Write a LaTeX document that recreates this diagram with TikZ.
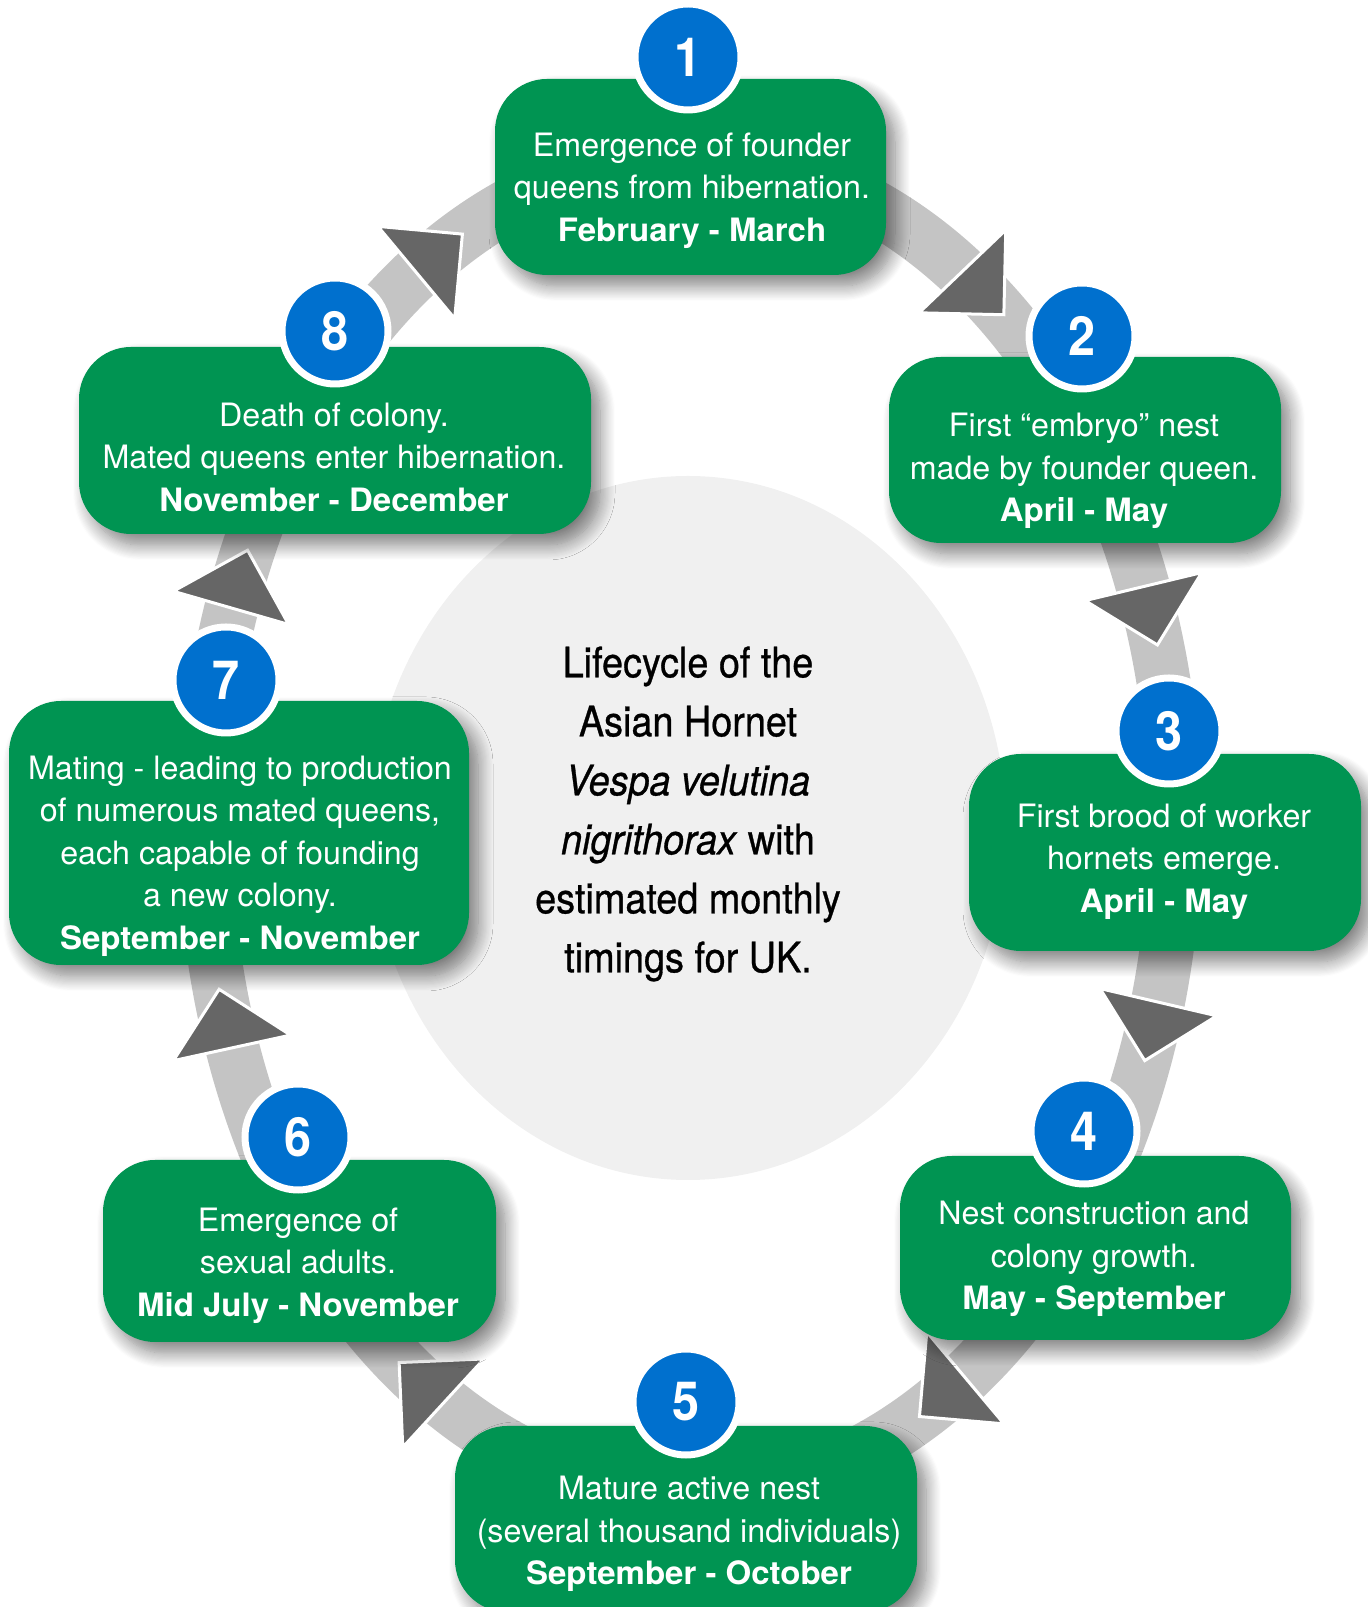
\documentclass[tikz,border=0pt]{standalone}
\usepackage{fontspec}
\setmainfont{TeX Gyre Heros}
\newfontfamily\condfont[FakeStretch=0.9,FakeBold=0.7]{TeX Gyre Heros}
\newfontfamily\numfont[FakeStretch=0.9]{TeX Gyre Heros}
\newfontfamily\wboldfont[FakeStretch=1.025]{TeX Gyre Heros}
\newcommand{\dates}[1]{{\wboldfont\bfseries #1}}
\usetikzlibrary{calc,decorations.markings,shadows.blur}
\definecolor{boxgreen}{HTML}{009452}
\definecolor{numblue}{HTML}{0070CE}
\definecolor{ringgrey}{HTML}{C4C4C4}
\definecolor{trigrey}{HTML}{666666}
\definecolor{centergrey}{HTML}{F0F0F0}
\begin{document}
\begin{tikzpicture}[x=1pt,y=1pt,
  stepbox/.style={rounded corners=52pt, fill=boxgreen, inner sep=0pt,
    blur shadow={shadow xshift=9pt, shadow yshift=-11pt, shadow blur radius=15pt,
      shadow blur steps=14, shadow opacity=50}},
  steptext/.style={align=center, text=white, font=\fontsize{32.2}{42.5}\selectfont, inner sep=0pt},
  numcirc/.style={circle, fill=numblue, draw=white, line width=7pt, minimum size=106pt,
    inner sep=0pt, text=white, font=\numfont\bfseries\fontsize{54}{54}\selectfont},
  ringline/.style={draw=ringgrey, line width=54pt},
  trifill/.style={fill=trigrey, draw=white, line width=3pt, line join=miter},
  ringarrow/.style={decoration={markings, mark=at position #1 with
    {\filldraw[trifill] (-30pt,-60pt) -- (30pt,0pt) -- (-30pt,60pt) -- cycle;}},
    postaction={decorate}},
]
\useasboundingbox (0,0) rectangle (1368,1607);

% centre disc
\fill[centergrey] (688,779) ellipse [x radius=318pt, y radius=352pt];

% ring coordinates
\coordinate (ec) at (690,781);
\coordinate (p1) at ($(ec)+(90:485pt and 669pt)$);
\coordinate (p2) at ($(ec)+(34.6:485pt and 669pt)$);
\coordinate (p3) at ($(ec)+(0:485pt and 669pt)$);
\coordinate (p4) at ($(ec)+(-37:485pt and 669pt)$);
\coordinate (p5) at ($(ec)+(-90:485pt and 669pt)$);
\coordinate (p6) at ($(ec)+(-141.8:485pt and 669pt)$);
\coordinate (p7) at ($(ec)+(180:485pt and 669pt)$);
\coordinate (p8) at ($(ec)+(141.8:485pt and 669pt)$);

% connectors
\draw[ringline, ringarrow=0.64] (p1) arc[start angle=90, end angle=34.6, x radius=485pt, y radius=669pt];
\draw[ringline, ringarrow=0.46] (p2) arc[start angle=34.6, end angle=0, x radius=485pt, y radius=669pt];
\draw[ringline, ringarrow=0.495] (p3) arc[start angle=0, end angle=-37, x radius=485pt, y radius=669pt];
\draw[ringline, ringarrow=0.44] (p4) arc[start angle=-37, end angle=-90, x radius=485pt, y radius=669pt];
\draw[ringline, ringarrow=0.62] (p5) arc[start angle=-90, end angle=-141.8, x radius=485pt, y radius=669pt];
\draw[ringline, ringarrow=0.55] (p6) arc[start angle=-141.8, end angle=-180, x radius=485pt, y radius=669pt];
\draw[ringline, ringarrow=0.58] (p7) arc[start angle=180, end angle=141.8, x radius=485pt, y radius=669pt];
\draw[ringline, ringarrow=0.43] (p8) arc[start angle=141.8, end angle=90, x radius=485pt, y radius=669pt];

% boxes
\node[stepbox, minimum width=391pt, minimum height=196pt] (b1) at (690.5,1430) {};
\node[stepbox, minimum width=392pt, minimum height=186pt] (b2) at (1085,1157) {};
\node[stepbox, minimum width=392pt, minimum height=197pt] (b3) at (1165,754.5) {};
\node[stepbox, minimum width=391pt, minimum height=184pt] (b4) at (1095.5,359) {};
\node[stepbox, minimum width=462pt, minimum height=186pt] (b5) at (686,88) {};
\node[stepbox, minimum width=393pt, minimum height=182pt] (b6) at (299.5,356) {};
\node[stepbox, minimum width=460pt, minimum height=264pt] (b7) at (239,774) {};
\node[stepbox, minimum width=512pt, minimum height=187pt] (b8) at (335,1166.5) {};

% texts
\node[steptext] (t1) at (692,1416.5) {Emergence of founder\\queens from hibernation.\\\dates{February - March}};
\node[steptext] (t2) at (1084,1136) {First “embryo” nest\\made by founder queen.\\\dates{April - May}};
\node[steptext] (t3) at (1164,745.5) {First brood of worker\\hornets emerge.\\\dates{April - May}};
\node[steptext] (t4) at (1094,348) {Nest construction and\\colony growth.\\\dates{May - September}};
\node[steptext] (t5) at (689,73) {Mature active nest\\(several thousand individuals)\\\dates{September - October}};
\node[steptext] (t6) at (298,341.5) {Emergence of\\sexual adults.\\\dates{Mid July - November}};
\node[steptext] (t7) at (240,751) {Mating - leading to production\\of numerous mated queens,\\each capable of founding\\a new colony.\\\dates{September - November}};
\node[steptext] (t8) at (334,1150) {Death of colony.\\Mated queens enter hibernation.\\\dates{November - December}};

% number circles
\node[numcirc] (c1) at (688,1550) {1};
\node[numcirc] (c2) at (1082,1271) {2};
\node[numcirc] (c3) at (1169,876) {3};
\node[numcirc] (c4) at (1084,476) {4};
\node[numcirc] (c5) at (686,205) {5};
\node[numcirc] (c6) at (298,470) {6};
\node[numcirc] (c7) at (226,927) {7};
\node[numcirc] (c8) at (335,1276) {8};

% title
\node[font=\condfont\fontsize{42}{59}\selectfont, align=center, text=black, inner sep=0pt] (title) at (688,793)
  {Lifecycle of the\\Asian Hornet\\\textit{Vespa velutina}\\\textit{nigrithorax} with\\estimated monthly\\timings for UK.};
\end{tikzpicture}
\end{document}
